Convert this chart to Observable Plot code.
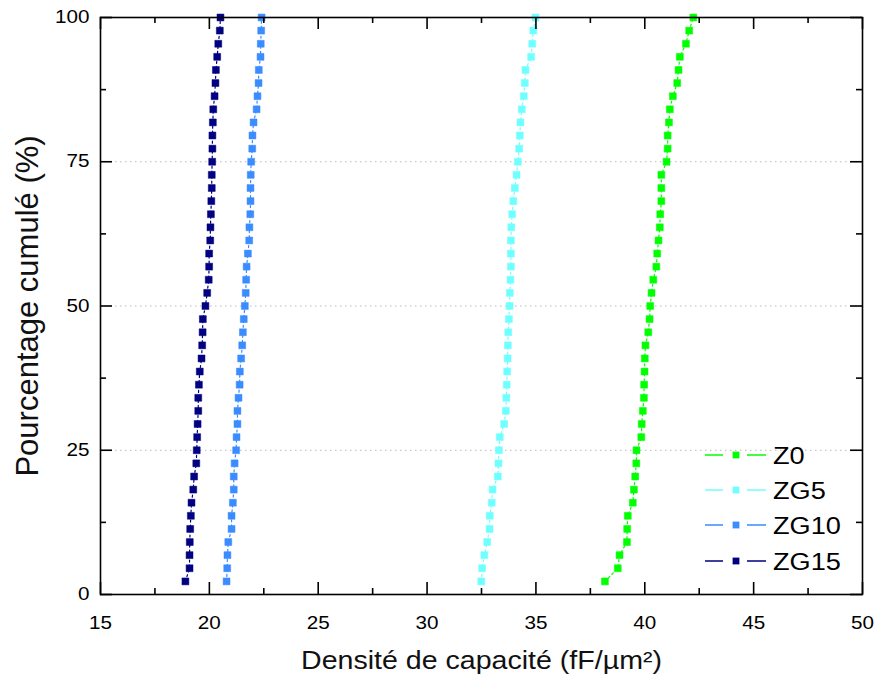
<!DOCTYPE html>
<html><head><meta charset="utf-8">
<script src="https://cdn.jsdelivr.net/npm/d3@7"></script>
<script src="https://cdn.jsdelivr.net/npm/@observablehq/plot@0.6"></script>
<style>
body{margin:0;background:#fff;}
#chart{position:relative;width:875px;height:679px;background:#fff;}
</style></head><body><div id="chart"></div>
<script>
const seriesNames = ["Z0","ZG5","ZG10","ZG15"];
const seriesColors = ["#00ff00","#70ffff","#3a8cff","#000080"];
const cumulativePercent = [2.27,4.55,6.82,9.09,11.36,13.64,15.91,18.18,20.45,22.73,25.00,27.27,29.55,31.82,34.09,36.36,38.64,40.91,43.18,45.45,47.73,50.00,52.27,54.55,56.82,59.09,61.36,63.64,65.91,68.18,70.45,72.73,75.00,77.27,79.55,81.82,84.09,86.36,88.64,90.91,93.18,95.45,97.73,100];
const z0 = [38.17,38.76,38.84,39.18,39.19,39.22,39.45,39.50,39.56,39.61,39.62,39.84,39.86,39.91,39.96,39.97,39.99,40.00,40.03,40.16,40.22,40.25,40.31,40.39,40.53,40.57,40.63,40.69,40.71,40.76,40.76,40.76,41.00,41.05,41.05,41.11,41.15,41.29,41.49,41.55,41.61,41.89,42.04,42.23];
const zg5 = [32.49,32.53,32.63,32.76,32.87,32.88,32.97,33.01,33.25,33.28,33.30,33.34,33.54,33.62,33.64,33.66,33.68,33.70,33.71,33.73,33.76,33.79,33.80,33.83,33.85,33.85,33.85,33.87,33.91,33.96,34.03,34.11,34.17,34.23,34.26,34.29,34.35,34.44,34.49,34.52,34.78,34.83,34.88,34.98];
const zg10 = [20.79,20.82,20.83,20.87,21.02,21.02,21.08,21.12,21.12,21.16,21.23,21.25,21.29,21.29,21.34,21.39,21.40,21.46,21.51,21.54,21.58,21.63,21.67,21.69,21.71,21.77,21.83,21.84,21.88,21.89,21.89,21.90,21.92,21.97,21.98,22.03,22.17,22.21,22.26,22.27,22.35,22.36,22.38,22.40];
const zg15 = [18.90,19.09,19.09,19.10,19.12,19.15,19.18,19.26,19.30,19.40,19.42,19.44,19.46,19.49,19.49,19.52,19.56,19.64,19.67,19.69,19.70,19.82,19.90,19.97,19.99,19.99,20.04,20.05,20.07,20.09,20.11,20.11,20.13,20.14,20.14,20.16,20.18,20.24,20.28,20.30,20.36,20.41,20.48,20.51];
const xMajorTicks = [15,20,25,30,35,40,45,50];
const xMinorTicks = [17.5,22.5,27.5,32.5,37.5,42.5,47.5];
const yMajorTicks = [0,25,50,75,100];
const yMinorTicks = [12.5,37.5,62.5,87.5];
const yGrid = [25,50,75];
const xLabel = "Densité de capacité (fF/µm²)";
const yLabel = "Pourcentage cumulé (%)";

const seriesValues = [z0, zg5, zg10, zg15];
const rows = [];
seriesNames.forEach((name, k) => {
  seriesValues[k].forEach((v, i) => rows.push({series: name, value: v, pct: cumulativePercent[i]}));
});

const W = 875, H = 679, mL = 100, mR = 13, mT = 17, mB = 85;
const plotW = W - mL - mR, plotH = H - mT - mB;
const font = "'Liberation Sans', Arial, sans-serif";
const tickStyle = {stroke: "black", strokeWidth: 1.6};

const chart = Plot.plot({
  width: W, height: H,
  marginLeft: mL, marginRight: mR, marginTop: mT, marginBottom: mB,
  style: {fontFamily: font, background: "white", color: "black", fontSize: "17.5px"},
  x: {domain: [15, 50], label: null},
  y: {domain: [0, 100], label: null},
  color: {domain: seriesNames, range: seriesColors},
  marks: [
    Plot.ruleY(yGrid, {stroke: "#b8b8b8", strokeDasharray: "1.5,3.5", strokeWidth: 1}),
    Plot.line(rows, {x: "value", y: "pct", z: "series", stroke: "series", strokeWidth: 1.2, strokeDasharray: "2,3"}),
    Plot.dot(rows, {x: "value", y: "pct", fill: "series", stroke: "series", strokeWidth: 0.5, symbol: "square", r: 3.9}),
    Plot.frame({stroke: "black", strokeWidth: 1.6}),
    Plot.ruleX(xMajorTicks, {y1: 100, y2: 0, insetTop: plotH - 12, ...tickStyle}),
    Plot.ruleX(xMajorTicks, {y1: 100, y2: 0, insetBottom: plotH - 12, ...tickStyle}),
    Plot.ruleX(xMinorTicks, {y1: 100, y2: 0, insetTop: plotH - 6, ...tickStyle}),
    Plot.ruleX(xMinorTicks, {y1: 100, y2: 0, insetBottom: plotH - 6, ...tickStyle}),
    Plot.ruleY(yMajorTicks, {x1: 15, x2: 50, insetRight: plotW - 12, ...tickStyle}),
    Plot.ruleY(yMajorTicks, {x1: 15, x2: 50, insetLeft: plotW - 12, ...tickStyle}),
    Plot.ruleY(yMinorTicks, {x1: 15, x2: 50, insetRight: plotW - 6, ...tickStyle}),
    Plot.ruleY(yMinorTicks, {x1: 15, x2: 50, insetLeft: plotW - 6, ...tickStyle}),
    Plot.axisX({ticks: xMajorTicks, tickSize: 0, tickPadding: 22, label: null, fontSize: 17.5, tickFormat: d => String(d)}),
    Plot.axisY({ticks: yMajorTicks, tickSize: 0, tickPadding: 11, label: null, fontSize: 17.5, tickFormat: d => String(d)}),
    Plot.text([xLabel], {text: d => d, frameAnchor: "bottom", dy: 74, lineAnchor: "bottom", fontSize: 25.5, fill: "#111"}),
    Plot.text([yLabel], {text: d => d, frameAnchor: "left", textAnchor: "middle", rotate: -90, dx: -63, dy: 0, lineAnchor: "bottom", fontSize: 31, fill: "#111"})
  ]
});
document.getElementById("chart").appendChild(chart);

// horizontal stretch of the source lettering
d3.select(chart).selectAll("text").each(function() {
  const t = this;
  const txt = t.textContent;
  let f = 1.18;
  if (txt === xLabel) f = 1.12;
  if (txt === yLabel) f = 1.0;
  if (f !== 1) {
    t.setAttribute("textLength", (t.getComputedTextLength() * f).toFixed(2));
    t.setAttribute("lengthAdjust", "spacingAndGlyphs");
  }
});

// legend inside the plot frame, bottom right
const legend = d3.select("#chart").append("svg")
  .attr("width", 170).attr("height", 145)
  .style("position", "absolute").style("left", "700px").style("top", "435px")
  .style("font-family", font);
seriesNames.forEach((name, i) => {
  const cy = Math.round(20 + i * 35.2);
  const c = seriesColors[i];
  legend.append("path").attr("d", `M5,${cy}H23M47,${cy}H66`).attr("fill", "none").attr("stroke", c).attr("stroke-width", 1.5);
  legend.append("rect").attr("x", 36 - 3.4).attr("y", cy - 3.4).attr("width", 6.8).attr("height", 6.8).attr("fill", c);
  const t = legend.append("text").attr("x", 73).attr("y", cy + 9).attr("font-size", 23).attr("fill", "black").text(name);
  const node = t.node();
  node.setAttribute("textLength", (node.getComputedTextLength() * 1.18).toFixed(2));
  node.setAttribute("lengthAdjust", "spacingAndGlyphs");
});
</script>
</body></html>
